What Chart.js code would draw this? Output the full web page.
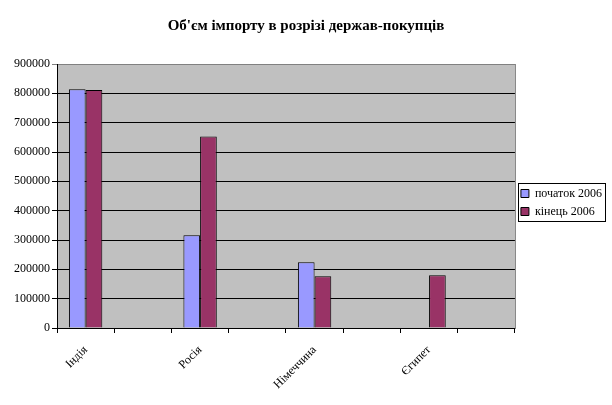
<!DOCTYPE html>
<html>
<head>
<meta charset="utf-8">
<script src="https://cdn.jsdelivr.net/npm/chart.js@4.4.1/dist/chart.umd.min.js"></script>
<style>
  html, body { margin: 0; padding: 0; background: #ffffff; }
  #wrap { width: 612px; height: 405px; position: relative; }
</style>
</head>
<body>
<div id="wrap"><canvas id="chart"></canvas></div>
<script>
  // categories (Excel only shows every other label)
  const countries = ["Індія", "", "Росія", "", "Німеччина", "", "Єгипет", ""];
  const startOf2006 = [814000, null, 316000, null, 224000, null, null, null];
  const endOf2006 = [811000, null, 653000, null, 176000, null, 180000, null];
  const seriesNames = ["початок 2006", "кінець 2006"];

  // grey plot area + border round the legend, like the old Excel chart
  const plotBackground = {
    id: "plotBackground",
    beforeDraw(chart) {
      const { ctx, chartArea: a } = chart;
      ctx.save();
      ctx.fillStyle = "#c0c0c0";
      ctx.fillRect(a.left, a.top, a.right - a.left, a.bottom - a.top);
      ctx.strokeStyle = "#808080";
      ctx.lineWidth = 1;
      ctx.strokeRect(a.left + 0.5, a.top + 0.5, a.right - a.left, a.bottom - a.top);
      ctx.restore();
    },
    afterDraw(chart) {
      const legend = chart.legend;
      const boxes = legend.legendHitBoxes;
      if (!boxes || !boxes.length) return;
      const { ctx } = chart;
      const top = Math.min(...boxes.map((b) => b.top));
      const bottom = Math.max(...boxes.map((b) => b.top + b.height));
      const left = Math.round(legend.left) + 3;
      const right = Math.round(legend.right) - 7;
      ctx.save();
      ctx.strokeStyle = "#000000";
      ctx.lineWidth = 1;
      ctx.strokeRect(left + 0.5, Math.round(top) - 4.5, right - left, Math.round(bottom - top) + 8);
      ctx.restore();
    },
  };

  new Chart(document.getElementById("chart"), {
    type: "bar",
    data: {
      labels: countries,
      datasets: [
        {
          label: seriesNames[0],
          data: startOf2006,
          backgroundColor: "#9999ff",
          borderColor: "#000000",
          borderWidth: 1,
        },
        {
          label: seriesNames[1],
          data: endOf2006,
          backgroundColor: "#993366",
          borderColor: "#000000",
          borderWidth: 1,
        },
      ],
    },
    options: {
      responsive: true,
      maintainAspectRatio: false,
      animation: false,
      layout: { padding: { left: 0, right: 0, top: 0, bottom: 0 } },
      datasets: { bar: { categoryPercentage: 0.583, barPercentage: 1 } },
      scales: {
        x: {
          offset: true,
          grid: {
            offset: true,
            drawOnChartArea: false,
            drawTicks: true,
            tickLength: 5,
            color: "#000000",
          },
          border: { color: "#000000" },
          ticks: {
            autoSkip: false,
            maxRotation: 45,
            minRotation: 45,
            padding: 10,
            color: "#000000",
            font: { family: "Liberation Serif", size: 12 },
          },
          afterFit: (scale) => { scale.height = 77; },
        },
        y: {
          min: 0,
          max: 900000,
          ticks: {
            stepSize: 100000,
            padding: 2,
            color: "#000000",
            font: { family: "Liberation Serif", size: 12 },
            callback: (v) => String(v),
          },
          grid: {
            color: (c) => (c.tick && c.tick.value === 900000 ? "#808080" : "#000000"),
            tickLength: 5,
          },
          border: { color: "#000000" },
          afterFit: (scale) => { scale.width = 57; },
        },
      },
      plugins: {
        title: {
          display: true,
          text: "Об'єм імпорту в розрізі держав-покупців",
          color: "#000000",
          font: { family: "Liberation Serif", size: 15, weight: "bold" },
          padding: { top: 17, bottom: 29 },
        },
        legend: {
          position: "right",
          labels: {
            boxWidth: 8,
            boxHeight: 8,
            padding: 6,
            color: "#000000",
            font: { family: "Liberation Serif", size: 12 },
          },
        },
        tooltip: { enabled: false },
      },
    },
    plugins: [plotBackground],
  });
</script>
</body>
</html>
